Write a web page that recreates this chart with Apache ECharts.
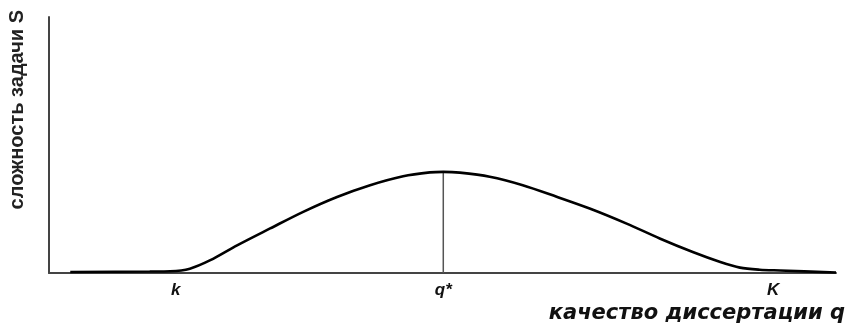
<!DOCTYPE html>
<html lang="ru">
<head>
    <meta charset="UTF-8">
    <script src="https://cdn.jsdelivr.net/npm/echarts@6/dist/echarts.min.js"></script>
    <style>
        html, body { margin: 0; padding: 0; background: #fff; }
        #chart { width: 848px; height: 325px; }
    </style>
</head>
<body>
<div id="chart"></div>
<script>
    // качество диссертации q (0..100) и сложность задачи S
    var qValues = [2.7, 12.8, 15.4, 17.9, 20.5, 23.9, 28.1, 32.3, 36.6, 40.8, 45.0, 48.4, 50.1, 52.2, 56.0, 60.2, 64.5, 68.7, 73.4, 77.6, 81.8, 85.3, 87.8, 90.3, 92.9, 100];
    var sValues = [0.4, 0.6, 0.7, 1.7, 5.0, 10.8, 17.4, 23.9, 29.7, 34.3, 37.8, 39.3, 39.5, 39.2, 37.6, 34.3, 29.8, 25.2, 19.3, 13.5, 8.2, 4.3, 2.1, 1.3, 1.0, 0.2];

    // отметки на оси q
    var tickValues = [16.1, 50.1, 92.0];
    var tickLabels = ['k', 'q*', 'K'];

    // вертикаль к вершине q*
    var peakQ = 50.1;
    var peakS = 39.5;

    var curve = qValues.map(function (q, i) { return [q, sValues[i]]; });

    var chart = echarts.init(document.getElementById('chart'));
    chart.setOption({
        animation: false,
        grid: { left: 49, right: 12, top: 17, bottom: 52 },
        xAxis: {
            type: 'value',
            min: 0,
            max: 100,
            splitLine: { show: false },
            axisLine: { lineStyle: { color: '#444', width: 2 } },
            axisTick: { show: false },
            axisLabel: {
                customValues: tickValues,
                formatter: function (v) {
                    var i = tickValues.indexOf(v);
                    return i >= 0 ? tickLabels[i] : '';
                },
                margin: 9,
                color: '#111',
                fontSize: 17,
                fontWeight: 'bold',
                fontStyle: 'italic',
                fontFamily: 'Liberation Sans'
            },
            name: 'качество диссертации q',
            nameLocation: 'end',
            nameGap: 9,
            nameTextStyle: {
                align: 'right',
                verticalAlign: 'top',
                padding: [30, 0, 0, 0],
                color: '#111',
                fontSize: 21,
                fontWeight: 'bold',
                fontStyle: 'italic',
                fontFamily: 'DejaVu Sans'
            }
        },
        yAxis: {
            type: 'value',
            min: 0,
            max: 100,
            splitLine: { show: false },
            axisLine: { show: true, lineStyle: { color: '#444', width: 2 } },
            axisTick: { show: false },
            axisLabel: { show: false },
            name: 'сложность задачи S',
            nameLocation: 'end',
            nameRotate: 90,
            nameGap: 7,
            nameTextStyle: {
                align: 'right',
                verticalAlign: 'bottom',
                padding: [0, 0, 22, 0],
                color: '#222',
                fontSize: 20,
                fontWeight: 'bold',
                fontFamily: 'Liberation Sans'
            }
        },
        series: [
            {
                type: 'line',
                data: [[peakQ, 0], [peakQ, peakS]],
                symbol: 'none',
                lineStyle: { color: '#555', width: 1.5 },
                z: 1
            },
            {
                type: 'line',
                data: curve,
                smooth: 0.3,
                symbol: 'none',
                lineStyle: { color: '#000', width: 2.6 },
                z: 2
            }
        ]
    });
</script>
</body>
</html>
